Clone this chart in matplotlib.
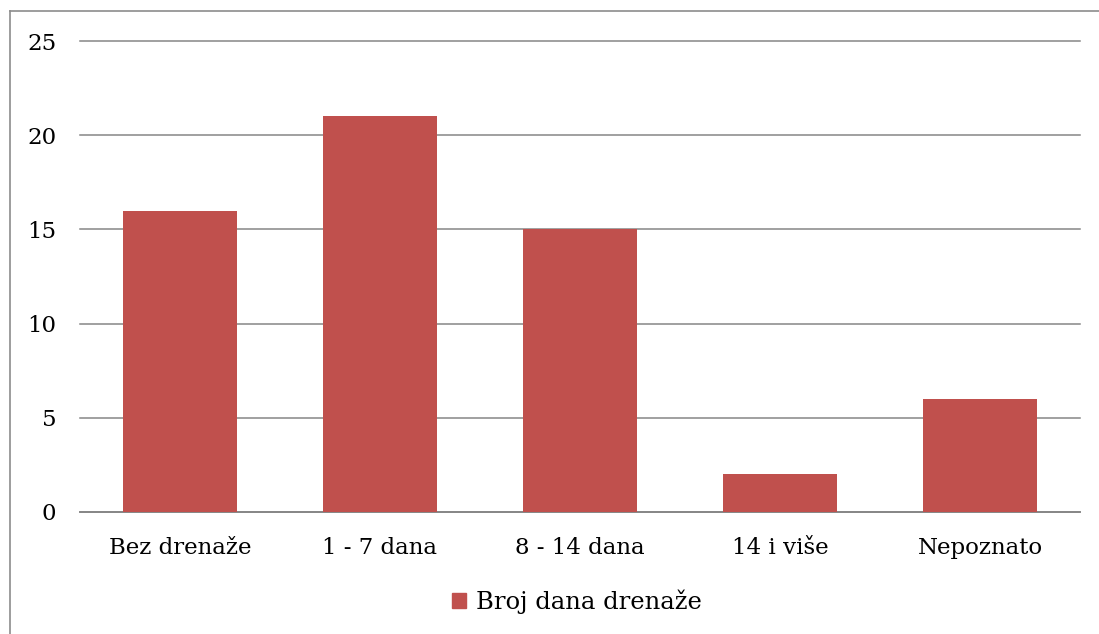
import matplotlib.pyplot as plt
from matplotlib.patches import Patch
from matplotlib.lines import Line2D

categories = ['Bez drenaže', '1 - 7 dana', '8 - 14 dana', '14 i više', 'Nepoznato']
values = [16, 21, 15, 2, 6]
yticks = [0, 5, 10, 15, 20, 25]
series_name = 'Broj dana drenaže'

plt.rcParams['font.family'] = ['DejaVu Serif']

W, H = 1099, 634
fig = plt.figure(figsize=(W / 100, H / 100), dpi=100)

# outer chart frame (only top and left edges fall inside the picture)
fig.add_artist(Line2D([10 / W, 10 / W], [0, 1 - 11 / H], color='#8c8c8c', lw=1.2))
fig.add_artist(Line2D([10 / W, 1], [1 - 11 / H, 1 - 11 / H], color='#8c8c8c', lw=1.2))

ax = fig.add_axes([80 / W, (H - 512) / H, 1000 / W, (512 - 41) / H])
x = range(len(categories))
ax.bar(x, values, width=0.57, color='#C0504D', zorder=3)
ax.set_xlim(-0.5, len(categories) - 0.5)
ax.set_ylim(0, 25)
ax.set_yticks(yticks)
ax.set_xticks(list(x))
ax.set_xticklabels(categories)
ax.yaxis.grid(True, color='#868686', lw=1.1, zorder=0)
for gl in ax.get_ygridlines():
    gl.set_clip_on(False)
for s in ['top', 'right', 'left']:
    ax.spines[s].set_visible(False)
ax.spines['bottom'].set_color('#868686')
ax.spines['bottom'].set_linewidth(1.3)
ax.tick_params(axis='both', length=0, labelsize=16.5, colors='black')
ax.tick_params(axis='y', pad=17)
ax.tick_params(axis='x', pad=18)

fig.legend(handles=[Patch(color='#C0504D', label=series_name)],
           loc='center', bbox_to_anchor=(577 / W, 1 - 602 / H), frameon=False,
           fontsize=17.5, handlelength=0.6, handleheight=0.6, handletextpad=0.4)

fig.savefig('out.png', dpi=100)
